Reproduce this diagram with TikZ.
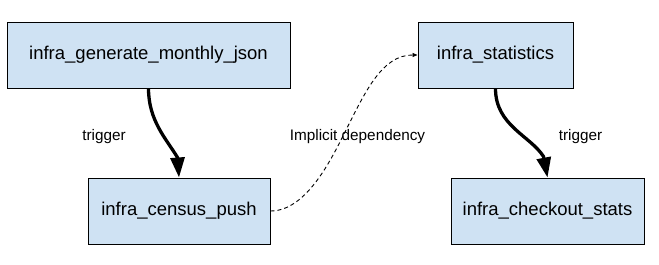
\documentclass[tikz,border=0pt]{standalone}
\usepackage{fontspec}
\setmainfont{Liberation Sans}
\usetikzlibrary{arrows.meta,calc}
\definecolor{boxblue}{HTML}{CFE2F3}
\begin{document}
\begin{tikzpicture}[x=1pt,y=-1pt,
  job/.style={draw=black,line width=1pt,fill=boxblue,inner sep=0pt,font=\fontsize{18.5}{22}\selectfont},
  lbl/.style={inner sep=0pt,font=\fontsize{15.3}{18}\selectfont},
  trig/.style={line width=3.3pt,-{Triangle[length=20pt,width=14pt]}},
  dep/.style={line width=0.9pt,dash pattern=on 4pt off 3pt,-{Triangle[length=5pt,width=4pt]}}]
\useasboundingbox (0,0) rectangle (659,265);
\node[job,minimum width=283pt,minimum height=66pt] (a) at (148.5,55) {infra\_generate\_monthly\_json};
\node[job,minimum width=182pt,minimum height=66pt] (b) at (179,211) {infra\_census\_push};
\node[job,minimum width=155pt,minimum height=66pt] (c) at (495.5,55) {infra\_statistics};
\node[job,minimum width=193pt,minimum height=66pt] (d) at (547.5,211) {infra\_checkout\_stats};
\node[lbl] (l1) at (104,137) {trigger};
\node[lbl] (l2) at (357.5,137) {Implicit dependency};
\node[lbl] (l3) at (580.5,137) {trigger};
\coordinate (j1) at ($(b.north)+(-1.5,-20)$);
\coordinate (j2) at ($(d.north)+(-4,-21)$);
\coordinate (m) at (345,132);
\draw[trig] (a.south) .. controls +(0,32) and +(-11.5,-19) .. (j1) -- (b.north);
\draw[trig] (c.south) .. controls +(0,37) and +(-13.5,-21) .. (j2) -- (d.north);
\draw[dep] (b.east) .. controls +(35,0) and +(-15,30) .. (m) .. controls +(21,-42) and +(-35,0) .. (c.west);
\end{tikzpicture}
\end{document}
